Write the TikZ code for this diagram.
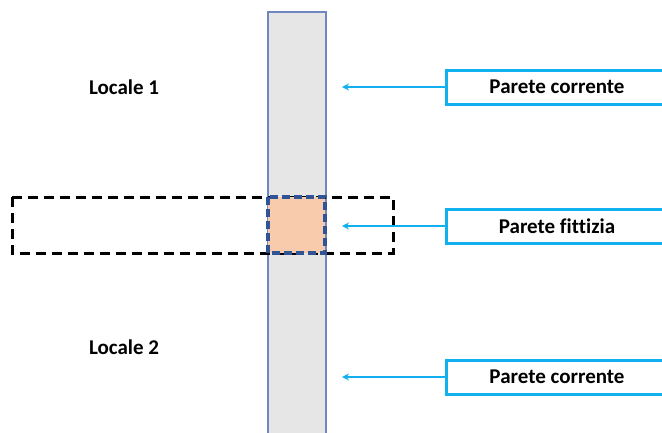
\documentclass[tikz,border=0pt]{standalone}
\usepackage{fontspec}
\setmainfont[Ligatures=NoCommon]{Carlito}
\usetikzlibrary{arrows.meta}
\definecolor{wallfill}{HTML}{E6E6E6}
\definecolor{wallline}{HTML}{7088C0}
\definecolor{fakefill}{HTML}{F8CBAD}
\definecolor{fakeline}{HTML}{2F5597}
\definecolor{labelline}{HTML}{11B0EE}
\tikzset{
  roomlabel/.style={font=\bfseries\fontsize{21}{25}\selectfont, text=black},
  tagbox/.style={draw=labelline, line width=3pt, fill=white, minimum width=222pt,
    minimum height=34pt, inner sep=0pt, font=\bfseries\fontsize{21}{25}\selectfont},
  pointer/.style={draw=labelline, line width=1.6pt, -{Stealth[length=7pt,width=7pt]}},
}
\begin{document}
\begin{tikzpicture}[x=1pt,y=-1pt]
\clip (0,0) rectangle (662,432);
\useasboundingbox (0,0) rectangle (662,432);
% wall section
\draw[draw=wallline, fill=wallfill, line width=1.2pt] (268,12) rectangle (326,440);
% dashed fictitious zone
\draw[draw=black, line width=3pt, dash pattern=on 10pt off 6pt] (12,197) rectangle (393,253);
% fictitious wall portion
\fill[fakefill] (268,197) rectangle (325,253);
\draw[draw=fakeline, line width=3.4pt, dash pattern=on 8pt off 4pt] (268,197) rectangle (325,253);
% room labels
\node[roomlabel] (l1) at (124,87) {Locale 1};
\node[roomlabel] (l2) at (124,347) {Locale 2};
% tags
\node[tagbox] (t1) at (557,87) {Parete corrente};
\node[tagbox] (t2) at (557,226) {Parete fittizia};
\node[tagbox] (t3) at (557,377) {Parete corrente};
\coordinate (p1) at (342,87);
\coordinate (p2) at (342,226);
\coordinate (p3) at (342,377);
\draw[pointer] (t1.west) -- (p1);
\draw[pointer] (t2.west) -- (p2);
\draw[pointer] (t3.west) -- (p3);
\end{tikzpicture}
\end{document}
